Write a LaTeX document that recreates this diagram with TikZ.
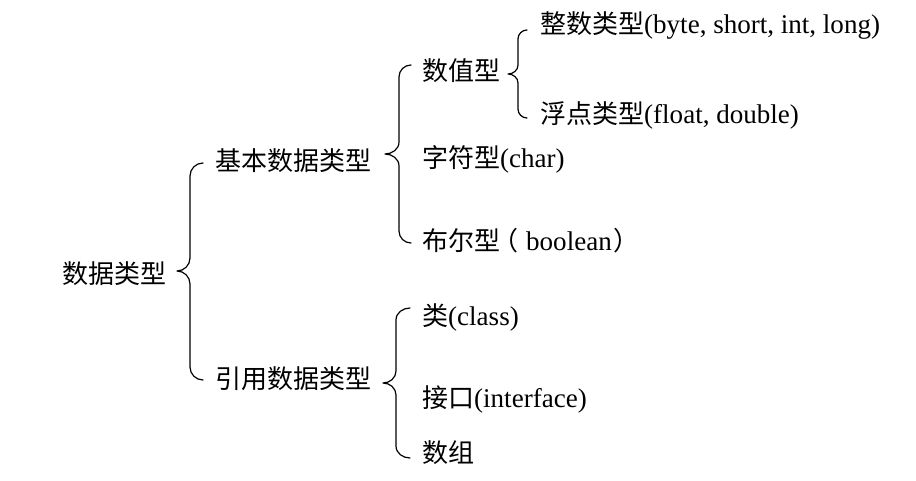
\documentclass[tikz,border=0pt]{standalone}
\usepackage{fontspec}
\setmainfont{Liberation Serif}[Scale=1.04]
\newfontfamily\cjk{Noto Sans CJK SC}
\begin{document}
\begin{tikzpicture}[x=1pt,y=-1pt,
  lbl/.style={anchor=base west,inner sep=0pt,font=\fontsize{26}{30}\selectfont},
  bracepath/.style={line width=1.2pt,line cap=round,line join=round}]
\useasboundingbox (0,0) rectangle (916,480);
\newcommand\drawbrace[7]{% tipx, vx, hx, top, mid, bot, r
  \draw[bracepath] (#3,#4) to[out=180,in=90] (#2,#4+#7) -- (#2,#5-#7)
    to[out=-90,in=0] (#1,#5) to[out=0,in=90] (#2,#5+#7) -- (#2,#6-#7)
    to[out=-90,in=180] (#3,#6);}
% texts (baseline = visual centre + 10)
\node[lbl] (root) at (62,283) {\cjk 数据类型};
\node[lbl] (basic) at (215,170) {\cjk 基本数据类型};
\node[lbl] (ref) at (215,388) {\cjk 引用数据类型};
\node[lbl] (num) at (422,80) {\cjk 数值型};
\node[lbl] (int) at (540,33) {{\cjk 整数类型}(byte, short, int, long)};
\node[lbl] (flt) at (540,123) {{\cjk 浮点类型}(float, double)};
\node[lbl] (chr) at (422,167) {{\cjk 字符型}(char)};
\node[lbl] (bool) at (422,250) {{\cjk 布尔型}\kern-8pt{\cjk （}\hspace{8pt}boolean\hspace{2pt}{\cjk ）}};
\node[lbl] (cls) at (422,325) {{\cjk 类}(class)};
\node[lbl] (ifc) at (422,407) {{\cjk 接口}(interface)};
\node[lbl] (arr) at (422,462) {\cjk 数组};
% braces
\drawbrace{177}{190}{203}{163}{271}{380}{13}
\drawbrace{385}{399}{411}{65}{154}{243}{12}
\drawbrace{383}{396}{410}{308}{383}{458}{12}
\drawbrace{508}{518}{527}{30}{74}{118}{9}
\end{tikzpicture}
\end{document}
